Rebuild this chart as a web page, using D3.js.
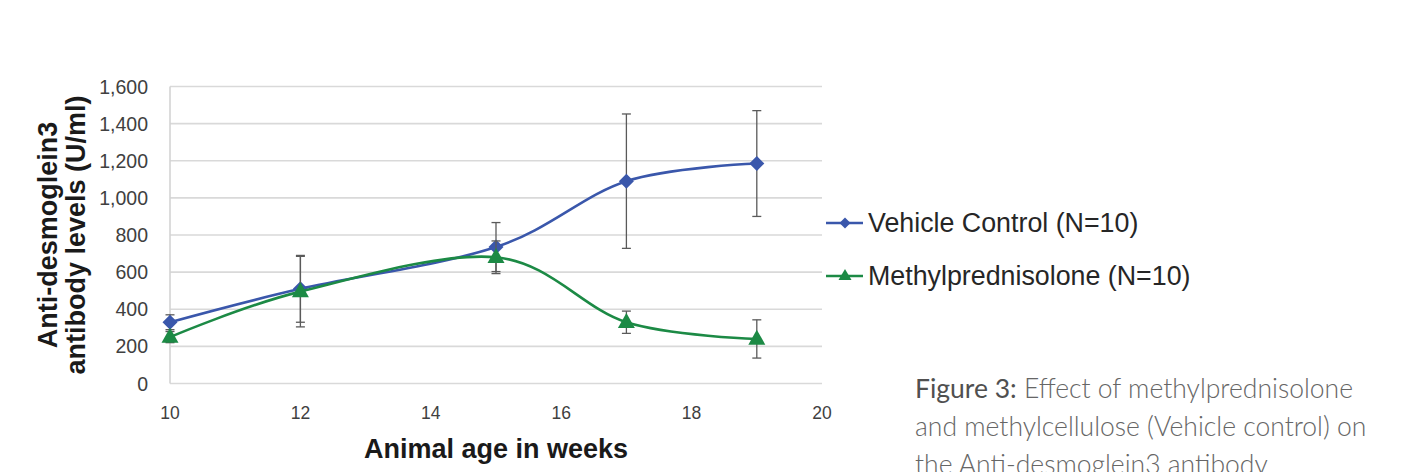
<!DOCTYPE html>
<html><head><meta charset="utf-8">
<script src="https://cdn.jsdelivr.net/npm/d3@7"></script>
<style>
html,body{margin:0;padding:0;background:#fff;}
svg{display:block;}
</style></head>
<body>
<svg id="chart" width="1403" height="472"></svg>
<script>
const weeks = [10, 12, 15, 17, 19];
const vehicle = [330, 510, 735, 1090, 1185];
const vehicleErr = [40, 180, 132, 362, 285];
const methyl = [250, 495, 680, 330, 240];
const methylErr = [30, 190, 88, 60, 103];
const seriesNames = ["Vehicle Control (N=10)", "Methylprednisolone (N=10)"];
const yTicks = [0, 200, 400, 600, 800, 1000, 1200, 1400, 1600];
const xTicks = [10, 12, 14, 16, 18, 20];
const yTitle = ["Anti-desmoglein3", "antibody levels (U/ml)"];
const xTitle = "Animal age in weeks";
const captionBold = "Figure 3:";
const captionLines = [" Effect of methylprednisolone", "and methylcellulose (Vehicle control) on", "the Anti-desmoglein3 antibody"];

const svg = d3.select("#chart");
const x = d3.scaleLinear().domain([10, 20]).range([170, 822]);
const y = d3.scaleLinear().domain([0, 1600]).range([383.5, 86.5]);

// gridlines
svg.append("g").selectAll("line").data(yTicks).join("line")
  .attr("x1", x(10)).attr("x2", x(20))
  .attr("y1", d => y(d)).attr("y2", d => y(d))
  .attr("stroke", "#d9d9d9").attr("stroke-width", 1.6);
svg.append("line").attr("x1", x(10)).attr("x2", x(10)).attr("y1", y(1600)).attr("y2", y(0))
  .attr("stroke", "#d4d4d4").attr("stroke-width", 1.6);

// y tick labels
svg.append("g").selectAll("text").data(yTicks).join("text")
  .attr("x", 148).attr("y", d => y(d)).attr("dy", "0.36em")
  .attr("text-anchor", "end")
  .attr("font-family", "Liberation Sans, Arial, sans-serif").attr("font-size", 19.5)
  .attr("fill", "#404040")
  .text(d => d3.format(",")(d));

// x tick labels
svg.append("g").selectAll("text").data(xTicks).join("text")
  .attr("x", d => x(d)).attr("y", 419)
  .attr("text-anchor", "middle")
  .attr("font-family", "Liberation Sans, Arial, sans-serif").attr("font-size", 17.5)
  .attr("fill", "#404040")
  .text(d => d);

// axis titles
svg.append("text").attr("x", 496).attr("y", 458).attr("text-anchor", "middle")
  .attr("font-family", "Liberation Sans, Arial, sans-serif").attr("font-weight", "bold")
  .attr("font-size", 27).attr("fill", "#1a1a1a").text(xTitle);
const yt = svg.append("text").attr("transform", "translate(0,235) rotate(-90)")
  .attr("text-anchor", "middle")
  .attr("font-family", "Liberation Sans, Arial, sans-serif").attr("font-weight", "bold")
  .attr("font-size", 27).attr("fill", "#1a1a1a");
yt.selectAll("tspan").data(yTitle).join("tspan")
  .attr("x", 0).attr("y", (d, i) => [57, 85][i]).text(d => d);

const line = d3.line().x(d => x(d[0])).y(d => y(d[1])).curve(d3.curveCardinal.tension(0));

const series = [
  {vals: vehicle, err: vehicleErr, color: "#3a57ab", marker: "diamond"},
  {vals: methyl, err: methylErr, color: "#1c8a45", marker: "triangle"}
];

function markerPath(type, cx, cy) {
  if (type === "diamond") {
    const r = 7.5;
    return `M${cx},${cy - r}L${cx + r},${cy}L${cx},${cy + r}L${cx - r},${cy}Z`;
  }
  const w = 8.5, h = 15;
  return `M${cx},${cy - h * 0.62}L${cx + w},${cy + h * 0.38}L${cx - w},${cy + h * 0.38}Z`;
}

series.forEach(s => {
  const pts = weeks.map((w, i) => [w, s.vals[i]]);
  svg.append("path").datum(pts).attr("d", line)
    .attr("fill", "none").attr("stroke", s.color).attr("stroke-width", 2.6);
  const eg = svg.append("g").attr("stroke", "#5a5a5a").attr("stroke-width", 1.3);
  weeks.forEach((w, i) => {
    const cx = x(w), top = y(s.vals[i] + s.err[i]), bot = y(s.vals[i] - s.err[i]);
    eg.append("line").attr("x1", cx).attr("x2", cx).attr("y1", top).attr("y2", bot);
    eg.append("line").attr("x1", cx - 4.5).attr("x2", cx + 4.5).attr("y1", top).attr("y2", top);
    eg.append("line").attr("x1", cx - 4.5).attr("x2", cx + 4.5).attr("y1", bot).attr("y2", bot);
  });
  svg.append("g").selectAll("path").data(pts).join("path")
    .attr("d", d => markerPath(s.marker, x(d[0]), y(d[1])))
    .attr("fill", s.color);
});

// legend
const legY = [223, 276];
series.forEach((s, i) => {
  svg.append("line").attr("x1", 826).attr("x2", 863).attr("y1", legY[i]).attr("y2", legY[i])
    .attr("stroke", s.color).attr("stroke-width", 2.4);
  const mp = s.marker === "diamond"
    ? `M845,${legY[i]-5.5}L850.5,${legY[i]}L845,${legY[i]+5.5}L839.5,${legY[i]}Z`
    : `M845,${legY[i]-7}L851.5,${legY[i]+4}L838.5,${legY[i]+4}Z`;
  svg.append("path").attr("d", mp).attr("fill", s.color);
  svg.append("text").attr("x", 868).attr("y", legY[i]).attr("dy", "0.35em")
    .attr("font-family", "Liberation Sans, Arial, sans-serif").attr("font-size", 26.8)
    .attr("fill", "#262626").text(seriesNames[i]);
});

// caption
const capFont = "Lato, 'Source Sans Pro', 'Open Sans', sans-serif";
const capY = [398, 436, 474];
captionLines.forEach((t, i) => {
  const tx = svg.append("text").attr("x", 915).attr("y", capY[i])
    .attr("font-family", capFont).attr("font-size", 26.5).attr("font-weight", 300).attr("fill", "#666");
  if (i === 0) tx.append("tspan").attr("font-weight", 400).attr("fill", "#505050").text(captionBold);
  tx.append("tspan").text(t);
});
</script>
</body></html>
